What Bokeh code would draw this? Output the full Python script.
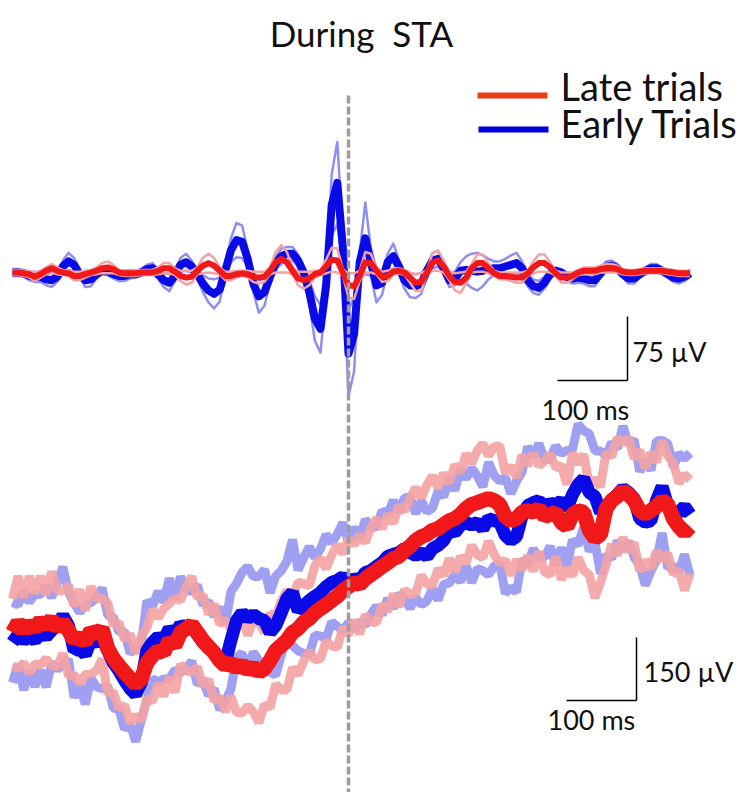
import numpy as np
from bokeh.plotting import figure
from bokeh.models import Range1d
from bokeh.core.properties import value
from bokeh.embed import file_html
from bokeh.resources import INLINE

# ---------------- data (time in ms, amplitude in µV) ----------------
t_ms = list(range(-480, 489, 8))  # sampling grid, 122 points

# Top panel: filtered STA (beta band)
early_top = [0, 0, -1, -4, -5, -5, -8, -9, -5, 7, 13, 9, -2, -9, -8, -2, 2, 1, -2, -4,
             -4, -2, -2, 0, 4, 5, -2, -9, -12, -4, 9, 12, 7, -2, -13, -21, -25, -20, 2, 26,
             38, 36, 16, -13, -28, -23, -5, 11, 19, 22, 22, 14, 0, -23, -54, -66, -15, 79, 105, 28,
             -95, -72, 12, 40, 12, -15, -12, 12, 19, 7, -9, -15, -16, -13, 2, 14, 16, 5, -9, -7,
             2, 3, 2, 1, 2, 4, 5, 5, 7, 9, 11, 5, -9, -16, -18, -12, -2, 2, 0, -5,
             -7, -6, -7, -9, -9, -1, 7, 8, 5, -2, -7, -7, -2, 2, 5, 5, 2, -2, -6, -7,
             -5, -1]
early_top_sem = [4, 4, 4, 5, 6, 6, 7, 8, 6, 7, 10, 8, 4, 8, 8, 5, 4, 4, 5, 6,
                 6, 5, 4, 4, 5, 6, 5, 8, 10, 6, 8, 10, 7, 5, 10, 14, 17, 14, 5, 14,
                 20, 19, 10, 10, 19, 16, 6, 7, 9, 8, 8, 7, 5, 14, 26, 28, 10, 36, 48, 16,
                 50, 44, 12, 42, 16, 20, 14, 10, 15, 8, 10, 14, 14, 12, 5, 9, 9, 6, 8, 8,
                 10, 16, 20, 22, 18, 12, 8, 8, 9, 11, 12, 8, 7, 8, 8, 7, 5, 4, 4, 5,
                 6, 6, 6, 7, 7, 5, 6, 6, 5, 4, 6, 6, 4, 4, 5, 5, 4, 4, 5, 6,
                 5, 4]
late_top = [0, 0, -1, -2, -5, -2, 2, 5, 2, 0, -1, -4, -4, -2, 0, 2, 5, 6, 4, 0,
            -1, -1, -1, 0, 0, 0, 2, 5, 5, 1, -4, -6, -5, 2, 8, 11, 8, 2, -4, -4,
            -2, -1, -2, -5, -6, -5, 2, 12, 16, 12, 2, -7, -9, -7, -2, 0, 7, 15, 14, 0,
            -15, -16, -4, 12, 11, 2, -5, -4, 1, 2, 0, -6, -12, -11, 0, 12, 14, 7, -4, -11,
            -12, -6, 5, 11, 11, 5, -1, -4, -4, -5, -6, -6, -1, 6, 11, 11, 6, -1, -6, -6,
            -4, 0, 2, 2, 2, 4, 5, 5, 4, 1, 0, 0, 1, 2, 2, 2, 2, 1, 0, -1,
            -1, -1]
late_top_sem = [3, 3, 3, 4, 5, 4, 4, 5, 4, 3, 3, 5, 5, 4, 3, 4, 6, 7, 5, 3,
                3, 3, 3, 3, 3, 3, 4, 6, 6, 4, 6, 8, 7, 4, 9, 11, 9, 4, 5, 5,
                4, 3, 4, 6, 7, 6, 4, 12, 16, 12, 4, 8, 10, 8, 4, 3, 8, 14, 14, 4,
                14, 15, 6, 12, 11, 4, 6, 6, 4, 3, 3, 6, 10, 10, 3, 10, 12, 7, 5, 10,
                12, 7, 5, 10, 10, 6, 3, 4, 4, 5, 6, 6, 3, 7, 10, 10, 6, 3, 6, 6,
                4, 3, 4, 4, 4, 4, 5, 5, 4, 3, 3, 3, 3, 3, 3, 3, 3, 3, 3, 3,
                3, 3]

# Bottom panel: raw STA
late_bot = [-76, -52, -71, -57, -67, -48, -62, -43, -67, -52, -71, -95, -86, -100, -71, -81, -67,
            -114, -138, -155, -171, -186, -200, -186,
            -148, -131, -119, -124, -95, -107, -76, -67, -57, -76, -95, -110, -124, -143, -155, -148,
            -162, -152, -167, -157, -171, -162, -143, -119, -107, -95, -76, -67, -52, -43, -29, -19,
            -10, 0, 10, 24, 33, 43, 38, 52, 62, 71, 81, 90, 100, 105, 119, 129, 143, 152, 157, 167,
            171, 181, 190, 195, 205, 219, 229, 233, 238, 243, 238, 229, 200, 190, 195, 210, 214, 210,
            219, 200, 205, 210, 186, 176, 205, 214, 210, 167, 148, 157, 219, 238, 248, 262, 252, 238,
            214, 205, 214, 224, 238, 229, 195, 176, 162, 176]
early_bot = [-100, -81, -95, -86, -95, -76, -86, -71,
             -60, -36, -60,
             -119, -114, -129,
             -95, -100, -90,
             -119, -148, -167, -190, -210, -224, -195,
             -119, -100, -86, -95, -67, -81, -57,
             -67, -62, -81, -100,
             -114, -124, -138, -148,
             -95,
             -48, -29, -43, -33, -43, -48,
             -76, -60, -29,
             5, 19,
             -24,
             -12, 0, 10, 19, 33, 43, 48,
             57, 43,
             52, 48, 67, 71, 81, 90, 105, 110, 114, 124,
             114,
             107, 114, 105, 124, 131, 143,
             167, 162, 179, 186,
             179, 186, 171, 195, 190,
             186, 155, 143, 152,
             202, 226, 233,
             238, 219, 233, 226,
             238, 219,
             252, 276, 290,
             257, 248, 210,
             226, 238, 252, 267, 257, 243,
             195, 186, 190,
             238, 271, 226,
             200, 210, 224, 205]
late_bot_sem = [80, 110, 78, 115, 84, 106, 76, 112, 90, 74, 108, 82, 112, 76, 104, 86, 72, 108, 80, 102, 78,
                106, 74, 100, 84, 110, 78, 104, 88, 112, 76, 100, 114, 82, 108, 78, 116, 86, 110, 80, 104,
                116, 84, 108, 120, 86, 112, 80, 106, 118, 84, 110, 92, 78, 112, 120, 86, 108, 122, 88, 114,
                90, 118, 86, 112, 124, 90, 116, 84, 120, 94, 114, 126, 92, 118, 130, 96, 122, 90, 128, 100,
                130, 98, 124, 136, 102, 128, 140, 104, 130, 98, 136, 108, 140, 102, 132, 144, 106, 136, 100, 146,
                112, 138, 106, 142, 114, 134, 104, 140, 112, 136, 100, 144, 110, 138, 106, 142, 116, 132, 104, 138, 112]
early_bot_sem = [96, 70, 118, 82, 110, 90, 120, 78, 104, 116, 80, 112, 86, 118, 90, 106, 120, 84, 108, 92, 116,
                 84, 112, 90, 118, 86, 108, 92, 120, 84, 114, 96, 82, 118, 90, 112, 86, 122, 92, 116, 88,
                 96, 124, 90, 100, 122, 94, 118, 100, 88, 126, 96, 114, 128, 92, 104, 124, 94, 110, 128, 96,
                 122, 98, 126, 104, 94, 124, 100, 128, 98, 120, 132, 100, 124, 106, 96, 130, 104, 126, 100, 134,
                 104, 136, 110, 100, 134, 108, 98, 138, 112, 132, 104, 140, 110, 136, 116, 104, 142, 112, 138, 108,
                 144, 114, 140, 108, 146, 118, 138, 110, 148, 116, 140, 112, 150, 120, 142, 110, 148, 118, 140, 114, 146]

legend_labels = ["Late trials", "Early Trials"]
title_text = "During\u00a0 STA"
top_scale = (100, 75)     # ms, µV
bot_scale = (100, 150)    # ms, µV

for name, arr in [("early_top", early_top), ("early_top_sem", early_top_sem), ("late_top", late_top),
                  ("late_top_sem", late_top_sem), ("late_bot", late_bot), ("early_bot", early_bot),
                  ("late_bot_sem", late_bot_sem), ("early_bot_sem", early_bot_sem)]:
    if len(arr) != len(t_ms):
        print("LENGTH MISMATCH", name, len(arr), len(t_ms))

# ---------------- layout helpers (page pixels -> data units) ----------------
W, H = 748, 792
X0, PX_PER_MS = 348.0, 0.7
TOP_BASE, TOP_PX_PER_UV = 272.0, 64.0 / 75.0
BOT_BASE, BOT_PX_PER_UV = 600.0, 63.0 / 150.0

def tx(px):
    return (px - X0) / PX_PER_MS

def ty(py):
    return (TOP_BASE - py) / TOP_PX_PER_UV

def by(py):
    return (BOT_BASE - py) / BOT_PX_PER_UV

p = figure(width=W, height=H, output_backend="svg", toolbar_location=None,
           x_range=Range1d(tx(0), tx(W)), y_range=Range1d(ty(H), ty(0)),
           min_border=0, min_border_left=0, min_border_right=0,
           min_border_top=0, min_border_bottom=0)
p.extra_y_ranges = {"bot": Range1d(by(H), by(0))}
p.xaxis.visible = False
p.yaxis.visible = False
p.grid.visible = False
p.outline_line_color = None
p.background_fill_color = "white"
p.border_fill_color = "white"

t = np.array(t_ms, dtype=float)

BLUE = "#0a0ae6"
LBLUE = "#8f8ff0"
RED = "#f01818"
PINK = "#f4a2a2"

# ---- bottom panel ----
eb, ebs = np.array(early_bot, float), np.array(early_bot_sem, float)
lb, lbs = np.array(late_bot, float), np.array(late_bot_sem, float)
for yy in (eb + ebs, eb - ebs):
    p.line(t, yy, y_range_name="bot", line_color=LBLUE, line_width=9, line_alpha=0.85)
for yy in (lb + lbs, lb - lbs):
    p.line(t, yy, y_range_name="bot", line_color=PINK, line_width=9, line_alpha=0.9)
p.line(t, eb, y_range_name="bot", line_color=BLUE, line_width=13)
p.line(t, lb, y_range_name="bot", line_color=RED, line_width=15)

# ---- top panel ----
et, ets = np.array(early_top, float), np.array(early_top_sem, float)
lt, lts = np.array(late_top, float), np.array(late_top_sem, float)
for yy in (et + ets, et - ets):
    p.line(t, yy, line_color=LBLUE, line_width=2.5, line_join="round")
p.line(t, et, line_color=BLUE, line_width=8, line_join="round")
for yy in (lt + lts, lt - lts):
    p.line(t, yy, line_color=PINK, line_width=2.5, line_join="round")
p.line(t, lt, line_color=RED, line_width=6, line_join="round")

# ---- dashed event line at t = 0 ----
p.segment(x0=[0], y0=[ty(95)], x1=[0], y1=[ty(H)], line_color="#9c9c9c",
          line_width=3.5, line_dash="8 3")

# ---- scale bars ----
cx, cy = tx(627), ty(380)
p.segment(x0=[cx - top_scale[0], cx], y0=[cy, cy], x1=[cx, cx], y1=[cy, cy + top_scale[1]],
          line_color="black", line_width=1.5)
bx, byy = tx(636), by(700)
p.segment(x0=[bx - bot_scale[0], bx], y0=[byy, byy], x1=[bx, bx], y1=[byy, byy + bot_scale[1]],
          line_color="black", line_width=1.5, y_range_name="bot")

FONT = value("Lato")
def label(xpx, base_px, s, size, align="left", rng="default"):
    # base_px: wanted baseline in page pixels; compensate the renderer's baseline offset
    ypx = base_px - 0.4 * size
    y = ty(ypx) if rng == "default" else by(ypx)
    kw = {} if rng == "default" else {"y_range_name": rng}
    p.text(x=[tx(xpx)], y=[y], text=[s], text_font=FONT, text_font_size=value(f"{size}px"),
           text_color="#111111", text_align=align, text_baseline="alphabetic", **kw)

label(632, 362, f"{top_scale[1]} µV", 27)
label(541, 420, f"{top_scale[0]} ms", 27)
label(643, 682, f"{bot_scale[1]} µV", 27, rng="bot")
label(547, 730, f"{bot_scale[0]} ms", 27, rng="bot")

# ---- title ----
label(361, 46, title_text, 35, align="center")

# ---- legend ----
p.segment(x0=[tx(477)], y0=[ty(95)], x1=[tx(547)], y1=[ty(95)], line_color="#ea3c1a", line_width=6)
p.segment(x0=[tx(478)], y0=[ty(129)], x1=[tx(548)], y1=[ty(129)], line_color="#0000dc", line_width=6)
label(560, 101, legend_labels[0], 38)
label(560, 138, legend_labels[1], 38)

open("out.html", "w").write(file_html(p, INLINE))
